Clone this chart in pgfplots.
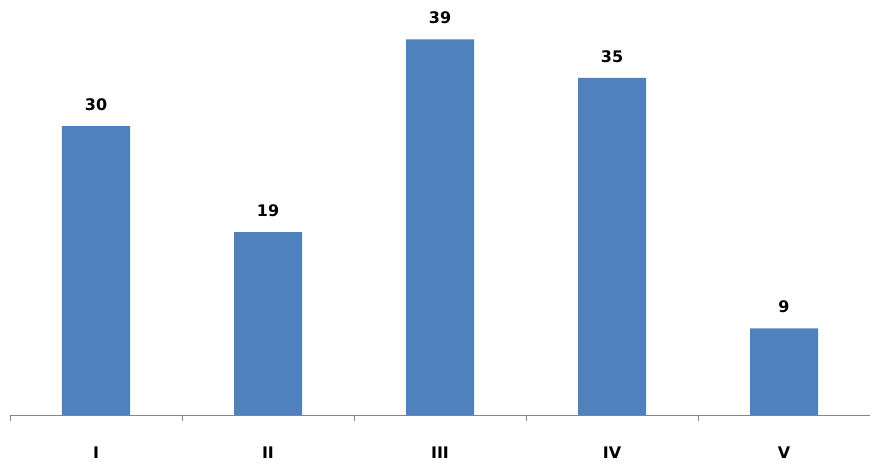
\documentclass[border=0pt]{standalone}
\usepackage{pgfplots}
\pgfplotsset{compat=1.18}
\usepackage{fontspec}
\setmainfont{DejaVu Sans}
\definecolor{barblue}{HTML}{4F81BD}
\definecolor{axgray}{HTML}{868686}
\begin{document}
\begin{tikzpicture}
\path[use as bounding box] (-10bp,-54bp) rectangle (863bp,415bp);
\begin{axis}[
  at={(0,0)}, anchor=south west,
  scale only axis, width=860bp, height=415bp,
  xmin=-0.5, xmax=4.5, ymin=0, ymax=43.1,
  axis x line=bottom, axis y line=none,
  axis line style={axgray, line width=0.8pt, -},
  ybar, bar width=68bp,
  xtick={0,1,2,3,4},
  xticklabels={I,II,III,IV,V},
  major tick length=0pt,
  minor xtick={-0.5,0.5,1.5,2.5,3.5},
  minor tick length=6bp,
  tick align=outside,
  minor tick style={axgray, line width=0.8pt},
  xticklabel style={font=\fontsize{16}{18}\selectfont\bfseries, yshift=-28bp},
  /pgf/number format/assume math mode=true,
  nodes near coords,
  every node near coord/.append style={font=\fontsize{16}{18}\selectfont\bfseries, black, yshift=12bp},
  clip=false,
]
\addplot[fill=barblue, draw=none] coordinates {(0,30) (1,19) (2,39) (3,35) (4,9)};
\end{axis}
\end{tikzpicture}
\end{document}
